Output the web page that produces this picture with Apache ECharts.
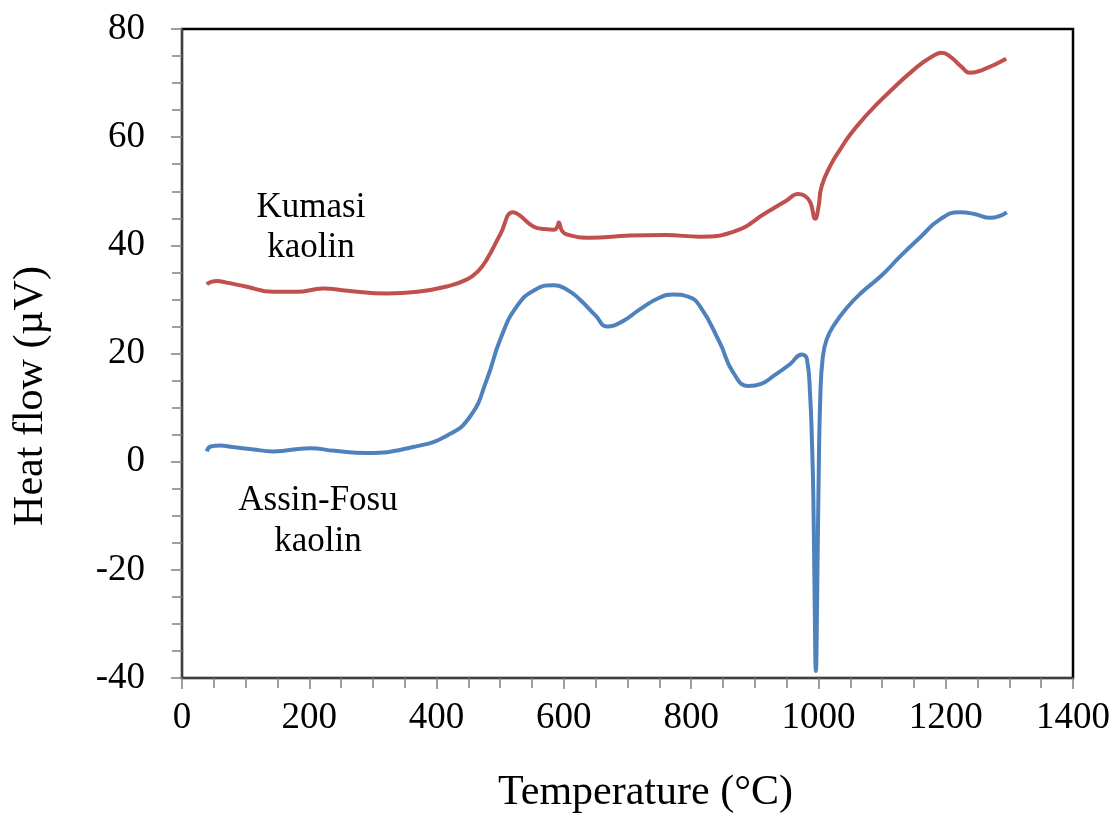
<!DOCTYPE html>
<html>
<head>
<meta charset="utf-8">
<script src="https://cdn.jsdelivr.net/npm/echarts@6/dist/echarts.min.js"></script>
<style>
  html, body { margin: 0; padding: 0; background: #fff; }
  #chart { width: 1115px; height: 819px; }
</style>
</head>
<body>
<div id="chart"></div>
<script>
  // Kumasi kaolin (red)
  const kumasiTemp = [39, 45, 55, 70, 100, 143, 180, 222, 260, 322, 370, 416, 448, 465, 479, 500, 520, 530, 552, 570, 585, 590, 592, 597, 605, 641, 704, 760, 814, 866, 919, 950, 968, 978, 987, 995, 1000, 1005, 1020, 1034, 1050, 1075, 1102, 1155, 1180, 1194, 1207, 1225, 1238, 1259, 1295]
  const kumasiFlow = [32.8, 33.2, 33.4, 33.1, 32.4, 31.4, 31.4, 32.0, 31.6, 31.1, 31.4, 32.4, 33.7, 35.2, 37.4, 42.0, 46.1, 45.6, 43.5, 43.0, 42.9, 43.5, 44.2, 42.7, 42.0, 41.4, 41.8, 41.9, 41.6, 42.5, 46.1, 48.3, 49.5, 49.2, 48.0, 44.9, 47.0, 50.9, 55.0, 57.7, 60.5, 64.0, 67.3, 73.0, 75.0, 75.6, 74.9, 73.0, 71.9, 72.5, 74.5]

  // Assin-Fosu kaolin (blue)
  const assinTemp = [39, 45, 60, 80, 110, 143, 201, 240, 290, 363, 416, 453, 479, 500, 526, 555, 583, 605, 625, 650, 668, 690, 720, 750, 772, 795, 814, 845, 866, 890, 910, 929, 955, 974, 982, 987, 990, 992, 994, 996, 998, 1000, 1003, 1007, 1013, 1023, 1045, 1070, 1100, 1128, 1160, 1191, 1222, 1245, 1270, 1296]
  const assinFlow = [1.9, 2.8, 3.0, 2.7, 2.3, 1.9, 2.5, 2.0, 1.6, 2.7, 4.8, 8.4, 15.2, 22.6, 28.7, 31.8, 32.6, 31.8, 30.0, 27.0, 25.0, 25.8, 28.2, 30.3, 30.9, 30.5, 28.7, 22.0, 16.5, 14.0, 14.4, 15.8, 18.0, 19.8, 18.9, 12.1, 3.0, -6.4, -25.0, -38.7, -25.0, -6.0, 12.1, 19.5, 22.6, 25.0, 28.5, 31.5, 34.5, 37.9, 41.5, 44.8, 46.1, 45.8, 45.1, 46.1]

  const xTicks = [0, 200, 400, 600, 800, 1000, 1200, 1400]
  const yTicks = [-40, -20, 0, 20, 40, 60, 80]

  const serif = 'Liberation Serif'
  const zip = (xs, ys) => xs.map((x, i) => [x, ys[i]])

  const chart = echarts.init(document.getElementById('chart'), null, { renderer: 'canvas' })

  const axisCommon = {
    axisLine: { show: true, onZero: false, lineStyle: { color: '#404040', width: 2 } },
    axisTick: { show: true, inside: false, length: 11, lineStyle: { color: '#808080', width: 1.5 } },
    minorTick: { show: true, splitNumber: 4, length: 10, lineStyle: { color: '#808080', width: 1.5 } },
    splitLine: { show: false },
  }

  chart.setOption({
    animation: false,
    backgroundColor: '#fff',
    grid: {
      left: 182, top: 29, right: 42, bottom: 136,
      show: true, borderColor: '#000', borderWidth: 2.5,
    },
    xAxis: Object.assign({}, axisCommon, {
      type: 'value',
      min: xTicks[0],
      max: xTicks[xTicks.length - 1],
      interval: 200,
      name: 'Temperature (°C)',
      nameLocation: 'middle',
      nameGap: 94,
      nameTextStyle: { fontFamily: serif, fontSize: 42, color: '#000', padding: [0, 0, 0, 36] },
      axisLabel: { margin: 22, fontFamily: serif, fontSize: 37, color: '#000', formatter: (v) => String(v) },
    }),
    yAxis: Object.assign({}, axisCommon, {
      type: 'value',
      min: yTicks[0],
      max: yTicks[yTicks.length - 1],
      interval: 20,
      name: 'Heat flow (µV)',
      nameLocation: 'middle',
      nameRotate: 90,
      nameGap: 130,
      nameTextStyle: { fontFamily: serif, fontSize: 42, color: '#000', padding: [0, 0, 0, -85] },
      axisLabel: { margin: 37, fontFamily: serif, fontSize: 37, color: '#000', formatter: (v) => String(v) },
    }),
    graphic: [
      { type: 'text', x: 311, y: 228, style: { text: 'Kumasi\nkaolin', fill: '#000', font: '35px "Liberation Serif"', align: 'center', verticalAlign: 'middle', lineHeight: 40 } },
      { type: 'text', x: 318, y: 521, style: { text: 'Assin-Fosu\nkaolin', fill: '#000', font: '35px "Liberation Serif"', align: 'center', verticalAlign: 'middle', lineHeight: 41 } },
    ],
    series: [
      {
        name: 'Kumasi kaolin',
        type: 'line',
        data: zip(kumasiTemp, kumasiFlow),
        showSymbol: false,
        smooth: 0.5,
        lineStyle: { color: '#C0504D', width: 4 },
        itemStyle: { color: '#C0504D' },
      },
      {
        name: 'Assin-Fosu kaolin',
        type: 'line',
        data: zip(assinTemp, assinFlow),
        showSymbol: false,
        smooth: 0.5,
        lineStyle: { color: '#4F81BD', width: 4 },
        itemStyle: { color: '#4F81BD' },
      },
    ],
  })
</script>
</body>
</html>
